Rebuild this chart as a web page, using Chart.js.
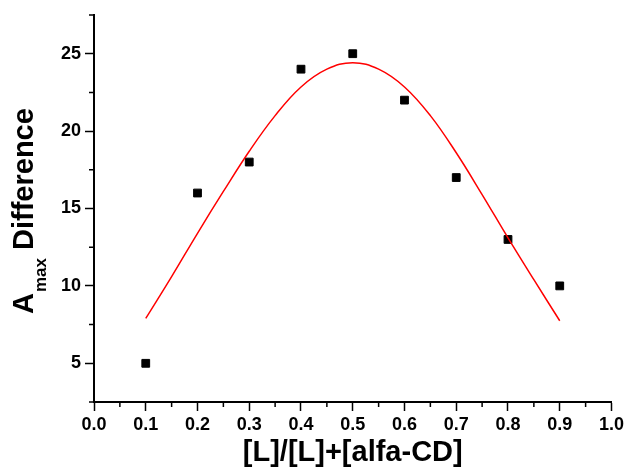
<!DOCTYPE html>
<html>
<head>
<meta charset="utf-8">
<script src="https://cdn.jsdelivr.net/npm/chart.js@4"></script>
<style>
  html, body { margin: 0; padding: 0; background: #fff; }
  #wrap { width: 627px; height: 474px; }
</style>
</head>
<body>
<div id="wrap"><canvas id="myChart" width="627" height="474"></canvas></div>
<script>
// measured points
const ratio = [0.1, 0.2, 0.3, 0.4, 0.5, 0.6, 0.7, 0.8, 0.9];
const amaxDiff = [5, 16, 18, 24, 25, 22, 17, 13, 10];

// red fit curve
const fitX = [0.1, 0.15, 0.2, 0.25, 0.3, 0.35, 0.4, 0.45, 0.5, 0.55, 0.6, 0.65, 0.7, 0.75, 0.8, 0.85, 0.9];
const fitY = [7.9, 10.6, 13.4, 16.1, 18.7, 21.0, 22.85, 24.0, 24.42, 24.0, 22.85, 21.0, 18.6, 15.9, 13.1, 10.4, 7.75];

const xMajor = [0, 0.1, 0.2, 0.3, 0.4, 0.5, 0.6, 0.7, 0.8, 0.9, 1.0];
const xMinor = [0.05, 0.15, 0.25, 0.35, 0.45, 0.55, 0.65, 0.75, 0.85, 0.95];
const yMajor = [5, 10, 15, 20, 25];
const yMinor = [2.5, 7.5, 12.5, 17.5, 22.5, 27.5];

const xTitle = "[L]/[L]+[alfa-CD]";
const yTitleMain = "A";
const yTitleSub = "max";
const yTitleRest = " Difference";

const FONT = "'Liberation Sans', Arial, sans-serif";
const ctx = document.getElementById("myChart");

const minorTicks = {
  id: "minorTicks",
  afterDraw(chart) {
    const c = chart.ctx;
    const xs = chart.scales.x;
    const ys = chart.scales.y;
    const area = chart.chartArea;
    c.save();
    c.strokeStyle = "#000";
    c.lineWidth = 1.5;
    c.beginPath();
    xMinor.forEach((v) => {
      const px = xs.getPixelForValue(v);
      c.moveTo(px, area.bottom);
      c.lineTo(px, area.bottom + 5);
    });
    yMinor.forEach((v) => {
      const py = ys.getPixelForValue(v);
      c.moveTo(area.left, py);
      c.lineTo(area.left - 5, py);
    });
    c.stroke();

    // y axis title with subscript
    c.translate(33, 314);
    c.rotate(-Math.PI / 2);
    c.fillStyle = "#000";
    c.textBaseline = "alphabetic";
    c.textAlign = "left";
    c.font = "bold 29px " + FONT;
    c.fillText(yTitleMain, 0, 0);
    let w = c.measureText(yTitleMain).width;
    c.font = "bold 17px " + FONT;
    c.fillText(yTitleSub, w + 1, 13);
    w += 1 + c.measureText(yTitleSub).width;
    c.font = "bold 29px " + FONT;
    c.fillText(yTitleRest, w, 0);
    c.restore();
  },
};

new Chart(ctx, {
  type: "scatter",
  data: {
    datasets: [
      {
        label: "fit",
        data: fitX.map((x, i) => ({ x, y: fitY[i] })),
        showLine: true,
        borderColor: "#ff0000",
        borderWidth: 1.5,
        pointRadius: 0,
        tension: 0.4,
        fill: false,
      },
      {
        label: "data",
        data: ratio.map((x, i) => ({ x, y: amaxDiff[i] })),
        pointStyle: "rect",
        pointRadius: 5.5,
        pointBackgroundColor: "#000",
        pointBorderColor: "#000",
        pointBorderWidth: 1,
        showLine: false,
      },
    ],
  },
  options: {
    responsive: false,
    animation: false,
    devicePixelRatio: 1,
    layout: { padding: { top: 15, right: 15, left: 0, bottom: 0 } },
    plugins: {
      legend: { display: false },
      tooltip: { enabled: false },
    },
    scales: {
      x: {
        type: "linear",
        min: 0,
        max: 1,
        afterBuildTicks: (s) => { s.ticks = xMajor.map((v) => ({ value: v })); },
        afterFit: (s) => { s.height = 72; },
        ticks: {
          color: "#000",
          font: { family: FONT, size: 18, weight: "bold" },
          padding: 3,
          maxRotation: 0,
          callback: (v) => Number(v).toFixed(1),
        },
        grid: {
          drawOnChartArea: false,
          drawTicks: true,
          tickLength: 9,
          tickColor: "#000",
          tickWidth: 1.5,
        },
        border: { display: true, color: "#000", width: 2 },
        title: {
          display: true,
          text: xTitle,
          color: "#000",
          font: { family: FONT, size: 29, weight: "bold" },
          padding: { top: 0, bottom: 4 },
        },
      },
      y: {
        type: "linear",
        min: 2.5,
        max: 27.5,
        afterBuildTicks: (s) => { s.ticks = yMajor.map((v) => ({ value: v })); },
        afterFit: (s) => { s.width = 94; },
        ticks: {
          color: "#000",
          font: { family: FONT, size: 18, weight: "bold" },
          padding: 4,
        },
        grid: {
          drawOnChartArea: false,
          drawTicks: true,
          tickLength: 9,
          tickColor: "#000",
          tickWidth: 1.5,
        },
        border: { display: true, color: "#000", width: 2 },
      },
    },
  },
  plugins: [minorTicks],
});
</script>
</body>
</html>
